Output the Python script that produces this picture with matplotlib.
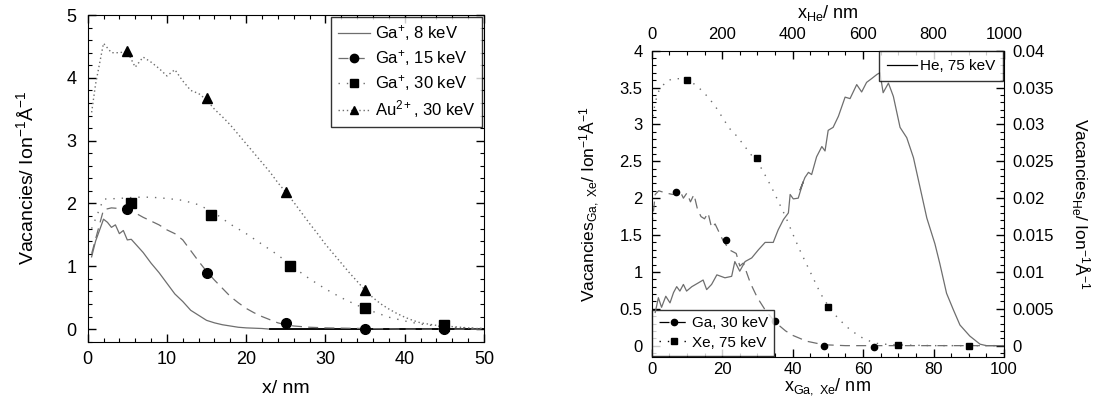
import numpy as np
import matplotlib
matplotlib.use('Agg')
import matplotlib.pyplot as plt
from matplotlib.ticker import MultipleLocator
from matplotlib.lines import Line2D

plt.rcParams['font.family'] = ['Liberation Sans', 'DejaVu Sans']
plt.rcParams['mathtext.fontset'] = 'custom'
plt.rcParams['mathtext.rm'] = 'Liberation Sans'
plt.rcParams['mathtext.it'] = 'Liberation Sans'

#%% left panel data (depth in nm, vacancies per ion per Angstrom)
x8 = [0.5, 1, 2, 2.5, 3, 3.5, 4, 4.5, 5, 5.5, 6, 7, 8, 9, 10, 11, 12, 13, 14, 15,
      16, 17, 18, 19, 20, 22, 23, 25, 30, 40, 50]
v8 = [1.15, 1.4, 1.75, 1.7, 1.62, 1.66, 1.52, 1.57, 1.42, 1.43, 1.36, 1.22, 1.05, 0.9,
      0.73, 0.56, 0.44, 0.3, 0.22, 0.14, 0.1, 0.07, 0.05, 0.03, 0.02, 0.01, 0, 0, 0, 0, 0]

x15 = [0.5, 2, 3, 4, 5, 6, 7, 8, 9, 10, 11, 12, 13, 14, 15, 16, 17, 18, 19, 20, 21, 22,
       23, 24, 25, 26, 27, 28, 30, 35, 40, 50]
v15 = [1.2, 1.9, 1.93, 1.92, 1.9, 1.85, 1.78, 1.72, 1.66, 1.58, 1.52, 1.42, 1.25, 1.08,
       0.92, 0.78, 0.65, 0.52, 0.42, 0.33, 0.26, 0.2, 0.15, 0.1, 0.07, 0.05, 0.04, 0.03,
       0.02, 0.01, 0, 0]
m15_x = [5, 15, 25, 35, 45]
m15_v = [1.91, 0.9, 0.1, 0.0, 0.0]

x30 = [0.5, 2, 4, 6, 8, 10, 12, 14, 16, 18, 20, 22, 24, 26, 28, 30, 32, 34, 36, 38, 40,
       42, 44, 46, 48, 50]
v30 = [1.6, 2.07, 2.08, 2.1, 2.1, 2.08, 2.05, 1.98, 1.85, 1.67, 1.52, 1.35, 1.18, 0.98,
       0.8, 0.64, 0.5, 0.38, 0.28, 0.19, 0.13, 0.08, 0.05, 0.03, 0.02, 0.01]
m30_x = [5.5, 15.5, 25.5, 35, 45]
m30_v = [2.0, 1.82, 1.01, 0.33, 0.06]

xau = list(range(0, 51))
xau[0] = 0.5
vau = [3.45, 3.9, 4.55, 4.4, 4.4, 4.42, 4.17, 4.33, 4.25, 4.15, 4.03, 4.13, 3.95, 3.8,
       3.75, 3.65, 3.5, 3.38, 3.25, 3.1, 2.95, 2.8, 2.65, 2.5, 2.33, 2.18, 2.02, 1.85,
       1.68, 1.52, 1.35, 1.2, 1.05, 0.9, 0.76, 0.62, 0.5, 0.4, 0.32, 0.25, 0.19, 0.14,
       0.1, 0.08, 0.06, 0.05, 0.04, 0.03, 0.02, 0.01, 0.01]
mau_x = [5, 15, 25, 35, 45]
mau_v = [4.42, 3.68, 2.18, 0.62, 0.05]

#%% right panel data
xga = [0, 1, 2, 4, 6, 8, 9, 10, 11, 12, 13, 14, 15, 16, 17, 18, 20, 22, 24, 25, 26, 28,
       30, 32, 34, 36, 38, 40, 42, 44, 46, 48, 50, 55, 60, 70, 80, 90, 100]
vga = [1.6, 2.05, 2.1, 2.07, 2.05, 2.1, 2.0, 2.07, 1.95, 2.05, 1.85, 1.75, 1.72, 1.8,
       1.6, 1.65, 1.45, 1.3, 1.25, 1.08, 1.12, 0.85, 0.65, 0.5, 0.38, 0.28, 0.2, 0.14,
       0.1, 0.06, 0.04, 0.02, 0.01, 0, 0, 0, 0, 0, 0]
mga_x = [7, 21, 35, 49, 63]
mga_v = [2.09, 1.43, 0.34, -0.01, -0.02]

xxe = [0, 1, 2, 4, 6, 8, 10, 12, 14, 16, 18, 20, 22, 24, 26, 28, 30, 32, 34, 36, 38, 40,
       42, 44, 46, 48, 50, 52, 54, 56, 58, 60, 62, 64, 66, 70, 80, 90, 100]
vxe = [3.0, 3.3, 3.45, 3.58, 3.62, 3.62, 3.6, 3.55, 3.47, 3.37, 3.25, 3.1, 2.95, 2.85,
       2.73, 2.6, 2.5, 2.33, 2.15, 1.95, 1.75, 1.52, 1.3, 1.1, 0.9, 0.7, 0.55, 0.42,
       0.32, 0.23, 0.16, 0.1, 0.06, 0.03, 0.02, 0.01, 0, 0, 0]
mxe_x = [10, 30, 50, 70, 90]
mxe_v = [3.6, 2.55, 0.52, 0.01, -0.01]

# He on top (nm, 0-1000) / right axes
xhe = [10, 19, 28, 40, 52, 62, 71, 80, 90, 99, 114, 132, 146, 156, 170, 185, 208, 227,
       236, 250, 265, 284, 303, 322, 345, 359, 374, 388, 393, 402, 416, 430, 421, 435,
       445, 454, 468, 483, 492, 501, 515, 530, 549, 563, 582, 596, 610, 624, 640, 648,
       657, 672, 686, 705, 724, 743, 762, 781, 804, 818, 837, 856, 875, 903, 932, 950,
       975, 1000]
vhe = [0.0045, 0.0065, 0.0052, 0.0067, 0.0058, 0.0072, 0.0080, 0.0074, 0.0083, 0.0074,
       0.0080, 0.0085, 0.0089, 0.0076, 0.0083, 0.0096, 0.0092, 0.0094, 0.0114, 0.0101,
       0.0114, 0.0119, 0.0130, 0.0140, 0.0140, 0.0157, 0.0171, 0.0180, 0.0205, 0.0199,
       0.0200, 0.0222, 0.0211, 0.0228, 0.0235, 0.0232, 0.0256, 0.0270, 0.0264, 0.0292,
       0.0296, 0.0311, 0.0337, 0.0335, 0.0354, 0.0344, 0.0357, 0.0362, 0.0368, 0.0370,
       0.0343, 0.0356, 0.0338, 0.0296, 0.0282, 0.0255, 0.0214, 0.0173, 0.0138, 0.0111,
       0.0071, 0.0049, 0.0028, 0.0013, 0.0002, 0.0, 0.0, 0.0]

GREY = '#6e6e6e'

fig = plt.figure(figsize=(11.04, 3.99), dpi=100)


def style_ticks(a, size, **kw):
    a.tick_params(which='major', direction='in', length=6, width=1, labelsize=size, **kw)
    a.tick_params(which='minor', direction='in', length=3, width=0.8, **kw)


#%% left
ax = fig.add_axes([0.0794, 0.1436, 0.359, 0.8188])
ax.plot(x8, v8, '-', color=GREY, lw=0.9)
# zero tail where all curves overlap shows up dark
x8a = np.array(x8)
v8a = np.array(v8)
ax.plot(x8a[v8a == 0], v8a[v8a == 0], '-', color='k', lw=1.3)
ax.plot(x15, v15, color=GREY, lw=0.9, dashes=(8, 5))
ax.plot(x30, v30, color=GREY, lw=1.0, dashes=(1, 5))
ax.plot(xau, vau, color=GREY, lw=1.0, dashes=(1, 2))
ax.plot(m15_x, m15_v, 'o', color='k', ms=7)
ax.plot(m30_x, m30_v, 's', color='k', ms=7)
ax.plot(mau_x, mau_v, '^', color='k', ms=7)
ax.set_xlim(0, 50)
ax.set_ylim(-0.2, 5)
ax.xaxis.set_major_locator(MultipleLocator(10))
ax.xaxis.set_minor_locator(MultipleLocator(2))
ax.yaxis.set_major_locator(MultipleLocator(1))
ax.yaxis.set_minor_locator(MultipleLocator(0.2))
style_ticks(ax, 13, top=True, right=True)
ax.tick_params(axis='y', which='major', pad=8)
ax.tick_params(axis='x', which='major', pad=6.5)
ax.set_xlabel('x/ nm', fontsize=14, labelpad=9)
ax.set_ylabel('Vacancies/ Ion$^{-1}$Å$^{-1}$', fontsize=14, labelpad=21)

hl = [Line2D([], [], color=GREY, lw=0.9, ls='-'),
      Line2D([], [], color=GREY, lw=0.9, dashes=(8, 5), marker='o', mfc='k', mec='k', ms=6),
      Line2D([], [], color=GREY, lw=1.0, dashes=(1, 5), marker='s', mfc='k', mec='k', ms=6),
      Line2D([], [], color=GREY, lw=1.0, dashes=(1, 2), marker='^', mfc='k', mec='k', ms=6)]
lab = ['Ga$^{+}$, 8 keV', 'Ga$^{+}$, 15 keV', 'Ga$^{+}$, 30 keV', 'Au$^{2+}$, 30 keV']
leg = ax.legend(hl, lab, loc='upper right', fontsize=12, frameon=True, fancybox=False,
                edgecolor='k', borderaxespad=0.1, handlelength=1.9, labelspacing=0.3,
                handletextpad=0.3, borderpad=0.4)
leg.get_frame().set_linewidth(1.0)

#%% right
bx = fig.add_axes([0.5903, 0.106, 0.3191, 0.767])
bx.plot(xga, vga, color=GREY, lw=0.9, dashes=(8, 5))
bx.plot(xxe, vxe, color=GREY, lw=1.0, dashes=(1, 5))
bx.plot(mga_x, mga_v, 'o', color='k', ms=4.5)
bx.plot(mxe_x, mxe_v, 's', color='k', ms=4.5)
bx.set_xlim(0, 100)
bx.set_ylim(-0.15, 4)
bx.xaxis.set_major_locator(MultipleLocator(20))
bx.xaxis.set_minor_locator(MultipleLocator(5))
bx.set_yticks([0, 0.5, 1, 1.5, 2, 2.5, 3, 3.5, 4])
bx.set_yticklabels(['0', '0.5', '1', '1.5', '2', '2.5', '3', '3.5', '4'])
bx.yaxis.set_minor_locator(MultipleLocator(0.1))
style_ticks(bx, 12)
bx.tick_params(axis='y', which='major', pad=6.5)
bx.set_xlabel('x$_{\\mathrm{Ga,\\ Xe}}$/ nm', fontsize=13, labelpad=0)
bx.set_ylabel('Vacancies$_{\\mathrm{Ga,\\ Xe}}$/ Ion$^{-1}$Å$^{-1}$', fontsize=12.5,
              labelpad=13)
hb = [Line2D([], [], color='k', lw=0.9, dashes=(8, 5), marker='o', ms=4.5),
      Line2D([], [], color='k', lw=1.0, dashes=(1, 5), marker='s', ms=4.5)]
leg2 = bx.legend(hb, ['Ga, 30 keV', 'Xe, 75 keV'], loc='lower left', fontsize=11,
                 fancybox=False, edgecolor='k', borderaxespad=0.05, handlelength=2.0,
                 labelspacing=0.35, handletextpad=0.2, borderpad=0.4)
leg2.get_frame().set_linewidth(1.0)

hx = fig.add_axes(bx.get_position(), frameon=False)
hx.plot(xhe, vhe, '-', color=GREY, lw=0.9)
hx.set_xlim(0, 1000)
hx.set_ylim(-0.0015, 0.04)
hx.xaxis.tick_top()
hx.xaxis.set_label_position('top')
hx.yaxis.tick_right()
hx.yaxis.set_label_position('right')
hx.xaxis.set_major_locator(MultipleLocator(200))
hx.xaxis.set_minor_locator(MultipleLocator(50))
hx.set_yticks([0, 0.005, 0.01, 0.015, 0.02, 0.025, 0.03, 0.035, 0.04])
hx.set_yticklabels(['0', '0.005', '0.01', '0.015', '0.02', '0.025', '0.03', '0.035', '0.04'])
hx.yaxis.set_minor_locator(MultipleLocator(0.001))
style_ticks(hx, 12)
hx.tick_params(axis='x', which='major', pad=6)
hx.tick_params(axis='y', which='major', pad=6)
hx.set_xlabel('x$_{\\mathrm{He}}$/ nm', fontsize=13, labelpad=7)
hx.set_ylabel('Vacancies$_{\\mathrm{He}}$/ Ion$^{-1}$Å$^{-1}$', fontsize=12.5,
              rotation=270, labelpad=27)
hh = [Line2D([], [], color='k', lw=0.9)]
leg3 = hx.legend(hh, ['He, 75 keV'], loc='upper right', fontsize=11, fancybox=False,
                 edgecolor='k', borderaxespad=0.05, handlelength=2.0, handletextpad=0.2,
                 borderpad=0.5)
leg3.get_frame().set_linewidth(1.0)

fig.savefig('out.png', dpi=100)
